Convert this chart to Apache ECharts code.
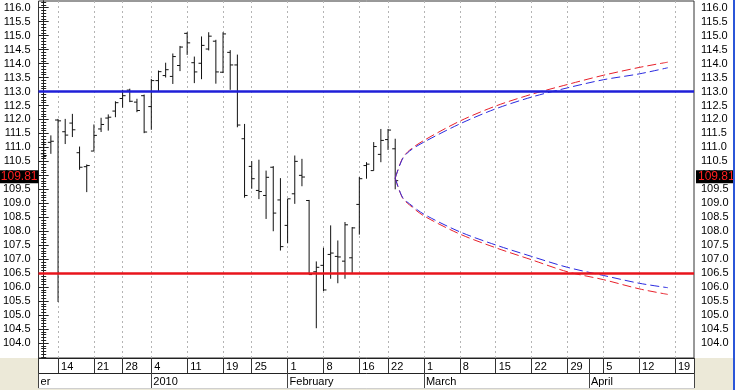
<!DOCTYPE html>
<html><head><meta charset="utf-8">
<script src="https://cdn.jsdelivr.net/npm/echarts@6/dist/echarts.min.js"></script>
<style>html,body{margin:0;padding:0;background:#fff}#c{width:735px;height:390px}</style>
</head><body><div id="c"></div>
<script>
// ---- calendar (trading days) ----
const firstDay = '2009-12-10', lastDay = '2010-04-23';
const holidays = ['2009-12-25','2010-01-01','2010-01-18','2010-02-15'];
// ---- OHLC values, one per trading day from 2009-12-10 to 2010-02-23 ----
const open  = [110.77,111.18,111.98,111.56,111.87,110.81,110.31,110.87,111.66,112.05,112.30,112.75,113.05,112.62,112.85,
               112.46,113.39,113.57,113.54,113.93,115.08,114.03,114.01,114.52,114.80,113.69,114.40,113.95,111.31,
               110.32,109.46,109.28,110.29,109.12,108.21,109.34,110.00,109.10,106.55,106.78,107.17,107.10,106.93,107.05,
               108.96,110.35,110.17,110.75,111.28,110.95];
const high  = [111.25,111.43,112.02,112.02,112.20,111.03,110.39,111.82,112.06,112.18,112.65,113.06,113.10,112.74,112.89,
               113.45,113.75,114.03,114.36,114.63,115.12,114.25,114.97,115.12,114.85,115.12,114.48,114.32,111.84,
               110.51,110.56,110.17,110.33,109.90,109.16,110.71,110.59,109.12,106.92,107.41,108.21,107.67,108.33,108.15,
               109.94,110.47,111.19,111.66,111.66,111.31];
const low   = [110.59,110.77,105.47,111.12,111.37,110.20,109.40,110.87,111.55,111.60,112.08,112.42,112.62,112.26,111.51,
               111.63,113.01,113.50,113.27,113.73,114.31,113.30,113.44,114.47,113.28,113.66,113.06,111.72,109.20,
               109.52,109.15,108.44,108.00,107.31,107.57,108.98,109.61,106.45,104.53,105.86,106.30,106.14,106.30,106.51,
               107.88,109.88,110.17,110.47,110.91,109.50];
const close = [110.71,111.22,111.95,111.44,111.63,110.29,110.35,111.43,111.82,112.08,112.60,112.85,112.65,112.32,111.55,
               113.39,113.71,113.78,114.25,114.59,114.74,113.70,114.65,114.98,113.70,115.06,113.95,111.80,109.28,
               109.88,109.42,109.93,108.65,107.45,109.16,110.50,109.94,106.45,106.71,105.90,107.22,107.08,108.23,108.12,
               109.88,110.40,111.03,111.25,111.62,109.81];
// ---- horizontal levels ----
const resistanceLevel = 113.0;
const supportLevel = 106.5;
// ---- projection curves ----
const projDates = ['2010-02-23','2010-02-24','2010-02-25','2010-03-01','2010-03-08','2010-03-15','2010-03-22','2010-03-29','2010-04-05','2010-04-12','2010-04-16'];
const upperRed  = [109.90,110.60,110.90,111.25,111.94,112.48,112.90,113.25,113.58,113.86,114.05];
const upperBlue = [109.90,110.58,110.87,111.19,111.84,112.38,112.80,113.13,113.42,113.63,113.85];
const lowerBlue = [109.90,109.22,108.98,108.61,107.98,107.51,107.10,106.71,106.42,106.14,105.98];
const lowerRed  = [109.90,109.20,108.94,108.55,107.90,107.41,106.98,106.55,106.27,105.94,105.74];
// ---- x tick labels ----
const weekTickDates = ['2009-12-14','2009-12-21','2009-12-28','2010-01-04','2010-01-11','2010-01-19','2010-01-25',
  '2010-02-01','2010-02-08','2010-02-16','2010-02-22','2010-03-01','2010-03-08','2010-03-15','2010-03-22',
  '2010-03-29','2010-04-05','2010-04-12','2010-04-19'];
const monthTickDates = ['2010-01-04','2010-02-01','2010-03-01','2010-04-01'];
const monthTickLabels = ['2010','February','March','April'];
const leftMonthLabel = 'er';
// ---- y tick labels ----
const yLabels = [];
for (let k = 208; k <= 232; k++) yLabels.push(k / 2);
const yMinor = [];
for (let k = 1035; k <= 1162; k++) yMinor.push(k / 10);
// ---- visible range (in trading-day index units) ----
const viewStart = -0.72, viewEnd = 90.65;
const yMin = 103.465, yMax = 116.238;

function iso(t){ return new Date(t).toISOString().slice(0,10); }
const allDates = [];
for (let t = Date.parse(firstDay+'T00:00:00Z'); t <= Date.parse(lastDay+'T00:00:00Z'); t += 86400000) {
  const d = new Date(t).getUTCDay(), s = iso(t);
  if (d === 0 || d === 6 || holidays.includes(s)) continue;
  allDates.push(s);
}
const idx = s => allDates.indexOf(s);

const ohlcData = open.map((o, i) => [i, o, high[i], low[i], close[i]]);
const curve = arr => projDates.map((d, i) => [idx(d), arr[i]]);

const weekIdx = weekTickDates.map(idx);
const weekLabel = {};
weekTickDates.forEach(d => { weekLabel[String(idx(d))] = String(parseInt(d.slice(8), 10)); });
const monthIdx = monthTickDates.map(idx);
const monthLabel = {};
monthTickDates.forEach((d, i) => { monthLabel[String(idx(d))] = monthTickLabels[i]; });
monthLabel[String(viewStart)] = leftMonthLabel;
const aprIdx = idx('2010-04-01');
const lastClose = close[close.length - 1];

const FONT = 'Liberation Sans, Arial, sans-serif';
const chart = echarts.init(document.getElementById('c'), null, {renderer: 'canvas'});

const ax = {color: '#000', fontFamily: FONT, fontSize: 11};
function yAx(pos, minor) {
  return {
    type: 'value', position: pos, min: yMin, max: yMax,
    axisLine: {show: !minor, lineStyle: {color: '#222', width: 1}},
    axisTick: {show: true, length: minor ? 2.5 : 5, customValues: minor ? yMinor : yLabels, lineStyle: {color: '#222'}},
    axisLabel: minor ? {show: false} : Object.assign({show: true, customValues: yLabels, margin: pos === 'left' ? 8 : 7,
      formatter: v => v.toFixed(1)}, ax),
    splitLine: {show: false}
  };
}

const dashStyle = [9, 4];
function curveSeries(name, arr, color) {
  return {name, type: 'line', data: curve(arr), showSymbol: false, smooth: 0.3, z: 4,
    lineStyle: {color, width: 1, type: dashStyle}, silent: true};
}
const priceLabel = pos => ({show: true, position: pos, distance: pos === 'start' ? 0 : 2, offset: [0, -4],
  formatter: lastClose.toFixed(2), color: '#ff2020', backgroundColor: '#000',
  padding: [1, 1, 0, 2], fontFamily: FONT, fontSize: 12});

chart.setOption({
  animation: false,
  backgroundColor: '#fff',
  grid: {left: 38, right: 41, top: 1, bottom: 32, show: true, borderColor: '#333', borderWidth: 1, backgroundColor: '#fff'},
  graphic: [
    {type: 'rect', shape: {x: 0, y: 358, width: 38, height: 32}, style: {fill: '#ece9d8'}, z: -10},
    {type: 'rect', shape: {x: 694, y: 358, width: 41, height: 32}, style: {fill: '#ece9d8'}, z: -10},
    {type: 'rect', shape: {x: 0, y: 388, width: 735, height: 2}, style: {fill: '#ece9d8'}, z: -10},
    {type: 'rect', shape: {x: 733, y: 0, width: 2, height: 390}, style: {fill: '#2b56d8'}, z: 10}
  ],
  xAxis: [
    {type: 'value', position: 'bottom', min: viewStart, max: viewEnd,
      axisLine: {show: true, lineStyle: {color: '#222'}},
      axisTick: {show: true, length: 15, customValues: [viewStart].concat(weekIdx, [aprIdx, viewEnd]), lineStyle: {color: '#333'}},
      axisLabel: Object.assign({customValues: weekIdx, margin: 3, align: 'left', padding: [0, 0, 0, 3],
        formatter: v => weekLabel[String(v)] || ''}, ax),
      splitLine: {show: false}},
    {type: 'value', position: 'bottom', offset: 15, min: viewStart, max: viewEnd,
      axisLine: {show: true, lineStyle: {color: '#222'}},
      axisTick: {show: true, length: 15, customValues: [viewStart].concat(monthIdx, [viewEnd]), lineStyle: {color: '#444'}},
      axisLabel: Object.assign({customValues: [viewStart].concat(monthIdx), margin: 3, align: 'left', padding: [0, 0, 0, 2],
        formatter: v => monthLabel[String(v)] || ''}, ax),
      splitLine: {show: false}},
    {type: 'value', position: 'bottom', min: viewStart, max: viewEnd,
      axisLine: {show: false},
      axisTick: {show: false, customValues: weekIdx},
      axisLabel: {show: false, customValues: weekIdx},
      splitLine: {show: true, lineStyle: {color: '#b4b4b4', type: [2, 3], width: 1}}},
    {type: 'value', position: 'bottom', offset: 30, min: viewStart, max: viewEnd,
      axisLine: {show: true, lineStyle: {color: '#cfcfcf'}},
      axisTick: {show: false}, axisLabel: {show: false}, splitLine: {show: false}}
  ],
  yAxis: [yAx('left', false), yAx('left', true), yAx('right', false), yAx('right', true)],
  series: [
    {type: 'custom', name: 'OHLC', data: ohlcData, z: 3, clip: true,
      encode: {x: 0, y: [1, 2, 3, 4]},
      renderItem: function (params, api) {
        const x = api.value(0);
        const o = api.coord([x, api.value(1)]);
        const h = api.coord([x, api.value(2)]);
        const l = api.coord([x, api.value(3)]);
        const c = api.coord([x, api.value(4)]);
        const st = {stroke: '#111', lineWidth: 1};
        return {type: 'group', children: [
          {type: 'line', shape: {x1: h[0], y1: h[1], x2: l[0], y2: l[1]}, style: st},
          {type: 'line', shape: {x1: o[0] - 3, y1: o[1], x2: o[0], y2: o[1]}, style: st},
          {type: 'line', shape: {x1: c[0], y1: c[1], x2: c[0] + 3, y2: c[1]}, style: st}
        ]};
      }
    },
    curveSeries('upperRed', upperRed, '#e8202a'),
    curveSeries('upperBlue', upperBlue, '#2a2ae0'),
    curveSeries('lowerRed', lowerRed, '#e8202a'),
    curveSeries('lowerBlue', lowerBlue, '#2a2ae0'),
    {type: 'line', name: 'levels', data: [], z: 5,
      markLine: {silent: true, symbol: 'none', label: {show: false},
        data: [
          {yAxis: resistanceLevel, lineStyle: {color: '#1f1fd8', width: 2.5, type: 'solid'}},
          {yAxis: supportLevel, lineStyle: {color: '#e8141c', width: 2.5, type: 'solid'}},
          {yAxis: lastClose, lineStyle: {color: 'rgba(0,0,0,0)', width: 0}, label: priceLabel('start')},
          {yAxis: lastClose, lineStyle: {color: 'rgba(0,0,0,0)', width: 0}, label: priceLabel('end')}
        ]}}
  ]
});
</script></body></html>
